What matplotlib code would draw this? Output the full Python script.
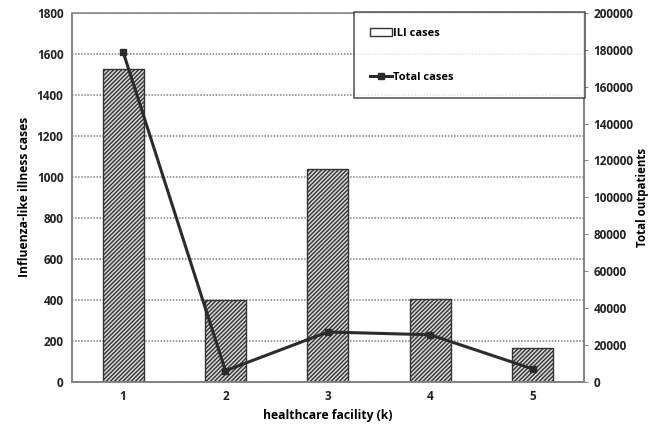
import matplotlib.pyplot as plt
from matplotlib.lines import Line2D
from matplotlib.patches import Patch

plt.rcParams["font.family"] = ["Open Sans", "DejaVu Sans"]
plt.rcParams["hatch.linewidth"] = 1.0
plt.rcParams["hatch.color"] = "#3a3a3a"

facilities = ["1", "2", "3", "4", "5"]
ili_cases = [1527, 400, 1039, 405, 166]
total_cases = [179000, 6000, 27000, 25500, 7000]


def main():
    fig = plt.figure(figsize=(6.53, 4.29), dpi=100)
    ax = fig.add_axes([0.110, 0.110, 0.784, 0.860])
    ax2 = ax.twinx()

    x = list(range(1, len(facilities) + 1))
    ax.bar(x, ili_cases, width=0.4, color="#d8d8d8", edgecolor="#333333",
           hatch="////////", linewidth=1.0, zorder=2)
    ax2.plot(x, total_cases, color="#2b2b2b", linewidth=2.2, marker="s",
             markersize=5, zorder=3)

    ax.set_xlim(0.5, 5.5)
    ax.set_ylim(0, 1800)
    ax.set_yticks(range(0, 1801, 200))
    ax2.set_ylim(0, 200000)
    ax2.set_yticks(range(0, 200001, 20000))
    ax.set_xticks(x, facilities)

    ax.grid(axis="y", color="#808080", linestyle=(0, (1, 1)), linewidth=1.1, zorder=0)
    ax.set_axisbelow(True)
    for a in (ax, ax2):
        for s in a.spines.values():
            s.set_color("#808080")
            s.set_linestyle((0, (1, 1)))
            s.set_linewidth(1.1)
    ax2.spines["top"].set_visible(False)

    ax.tick_params(axis="both", length=0, labelsize=8.5, colors="#222222", pad=6)
    ax2.tick_params(axis="y", length=3, labelsize=8.5, pad=4,
                    colors="#888888", labelcolor="#222222")
    for lbl in ax.get_xticklabels() + ax.get_yticklabels() + ax2.get_yticklabels():
        lbl.set_fontweight("bold")

    ax.set_xlabel("healthcare facility (k)", fontsize=8.7, fontweight="bold", labelpad=4)
    ax.set_ylabel("Influenza-like illness cases", fontsize=8.7, fontweight="bold", labelpad=4)
    ax2.set_ylabel("Total outpatients", fontsize=8.3, fontweight="bold", labelpad=2)

    handles = [
        Patch(facecolor="white", edgecolor="#333333", linewidth=1.0),
        Line2D([0], [0], color="#2b2b2b", linewidth=2.2, marker="s", markersize=5),
    ]
    leg = fig.legend(handles, ["ILI cases", "Total cases"],
                     loc="upper left",
                     bbox_to_anchor=(354 / 653, 1 - 97 / 429, 231 / 653, 85 / 429),
                     mode="expand", frameon=True, fancybox=False,
                     edgecolor="#222222", fontsize=8, labelspacing=3.0,
                     borderpad=1.4, handlelength=2.0, handletextpad=0.1,
                     borderaxespad=0)
    leg.get_frame().set_linewidth(1.1)
    for t in leg.get_texts():
        t.set_fontweight("bold")

    fig.savefig("out.png", dpi=100)


if __name__ == "__main__":
    main()
